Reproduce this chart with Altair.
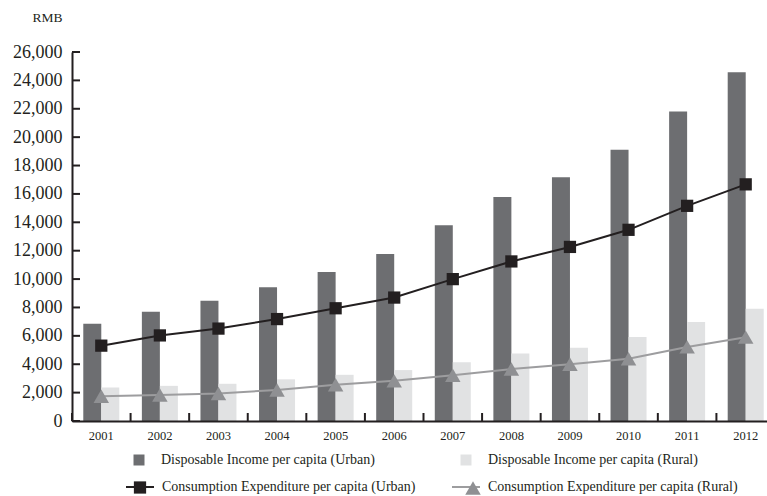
import altair as alt
import pandas as pd

# ---- data ----
years = ["2001", "2002", "2003", "2004", "2005", "2006",
         "2007", "2008", "2009", "2010", "2011", "2012"]
urban_income = [6860, 7703, 8472, 9422, 10493, 11759, 13786, 15781, 17175, 19109, 21810, 24565]
rural_income = [2366, 2476, 2622, 2936, 3255, 3587, 4140, 4761, 5153, 5919, 6977, 7917]
urban_cons = [5309, 6030, 6511, 7182, 7943, 8697, 9997, 11243, 12265, 13471, 15161, 16674]
rural_cons = [1741, 1834, 1943, 2185, 2555, 2829, 3224, 3661, 3993, 4382, 5221, 5908]
bar_series = ["Disposable Income per capita (Urban)", "Disposable Income per capita (Rural)"]
line_series = ["Consumption Expenditure per capita (Urban)", "Consumption Expenditure per capita (Rural)"]
y_ticks = [0, 2000, 4000, 6000, 8000, 10000, 12000, 14000, 16000,
           18000, 20000, 22000, 24000, 26000]

bar_df = pd.DataFrame(
    [{"year": y, "series": bar_series[0], "value": v} for y, v in zip(years, urban_income)]
    + [{"year": y, "series": bar_series[1], "value": v} for y, v in zip(years, rural_income)]
)
line_df = pd.DataFrame(
    [{"year": y, "lseries": line_series[0], "value": v} for y, v in zip(years, urban_cons)]
    + [{"year": y, "lseries": line_series[1], "value": v} for y, v in zip(years, rural_cons)]
)
line_df["pseries"] = line_df["lseries"]
xtick_df = pd.DataFrame({"year": years})
ytick_df = pd.DataFrame({"tick": y_ticks})

SERIF = "Liberation Serif"
INK = "#231f20"
DARK_BAR = "#6d6e71"
LIGHT_BAR = "#e1e2e3"
GRAY_LINE = "#9d9d9f"
GRAY_TRI = "#8f9093"

xscale = alt.Scale(domain=years, range=[0, 703], paddingInner=0, paddingOuter=0)
yscale = alt.Scale(domain=[0, 26000], nice=False, zero=True)

x_axis = alt.Axis(title=None, orient="bottom", labelAngle=0, labelFont=SERIF,
                  labelFontSize=12.5, labelColor=INK, ticks=False, tickSize=0,
                  labelPadding=8, domainColor=INK, domainWidth=2, grid=False, zindex=1)
y_axis = alt.Axis(title="RMB", titleAngle=0, titleAlign="right", titleBaseline="middle",
                  titleX=-10, titleY=-35, titleFont=SERIF, titleFontSize=13.5,
                  titleFontWeight="normal", titleColor=INK,
                  orient="left", values=y_ticks, labelExpr="format(datum.value, ',')",
                  labelFont=SERIF, labelFontSize=18, labelColor=INK, ticks=False,
                  tickSize=0, labelPadding=10, domainColor=INK, domainWidth=2,
                  grid=False, zindex=1)

common_legend = dict(title=None, orient="none", direction="horizontal", columns=2,
                     labelFont=SERIF, labelFontSize=14, labelColor=INK, labelLimit=500,
                     padding=0, rowPadding=0)
bar_legend = alt.Legend(legendX=60, legendY=401, symbolType="square", symbolSize=121,
                        symbolStrokeWidth=0, labelOffset=15, columnPadding=84,
                        **common_legend)
line_legend = alt.Legend(legendX=53, legendY=420, symbolType="stroke", symbolSize=784,
                         symbolStrokeWidth=2, labelOffset=7, columnPadding=32,
                         **common_legend)
point_legend = alt.Legend(legendX=60, legendY=428, symbolSize=150, symbolStrokeWidth=0,
                          labelOffset=0, labelExpr="''", columnPadding=317,
                          **common_legend)

bars = alt.Chart(bar_df).mark_bar().encode(
    x=alt.X("year:N", scale=xscale, axis=x_axis),
    xOffset=alt.XOffset("series:N", sort=bar_series,
                        scale=alt.Scale(domain=bar_series, paddingInner=0, paddingOuter=0.627)),
    y=alt.Y("value:Q", scale=yscale, axis=y_axis),
    fill=alt.Fill("series:N", sort=bar_series,
                  scale=alt.Scale(domain=bar_series, range=[DARK_BAR, LIGHT_BAR]),
                  legend=bar_legend),
)

xticks = alt.Chart(xtick_df).mark_rule(color=INK, strokeWidth=2).encode(
    x=alt.X("year:N", scale=xscale, bandPosition=0, axis=None),
    y=alt.value(369), y2=alt.value(361),
)
yticks = alt.Chart(ytick_df).mark_rule(color=INK, strokeWidth=2).encode(
    y=alt.Y("tick:Q", scale=yscale, axis=None),
    x=alt.value(0), x2=alt.value(8),
)

lines = alt.Chart(line_df).mark_line(strokeWidth=2).encode(
    x=alt.X("year:N", scale=xscale, axis=None),
    y=alt.Y("value:Q", scale=yscale, axis=None),
    stroke=alt.Stroke("lseries:N", sort=line_series,
                      scale=alt.Scale(range=[INK, GRAY_LINE]),
                      legend=line_legend),
)

points = alt.Chart(line_df).mark_point(filled=True, opacity=1).encode(
    x=alt.X("year:N", scale=xscale, axis=None),
    y=alt.Y("value:Q", scale=yscale, axis=None),
    color=alt.Color("pseries:N", sort=line_series,
                    scale=alt.Scale(domain=line_series, range=[INK, GRAY_TRI]),
                    legend=point_legend),
    shape=alt.Shape("pseries:N", sort=line_series,
                    scale=alt.Scale(domain=line_series, range=["square", "triangle-up"]),
                    legend=point_legend),
    size=alt.Size("pseries:N", sort=line_series,
                  scale=alt.Scale(domain=line_series, range=[150, 240]),
                  legend=None),
)

chart = alt.layer(bars, xticks, yticks, lines, points).resolve_axis(
    x="independent", y="independent"
).properties(
    width=695, height=369,
    autosize=alt.AutoSizeParams(type="none"),
    padding={"left": 72, "top": 52, "right": 0, "bottom": 75},
    background="white",
).configure(font=SERIF).configure_view(stroke=None)

chart.save("out.html", embed_options={"renderer": "svg", "actions": False})
